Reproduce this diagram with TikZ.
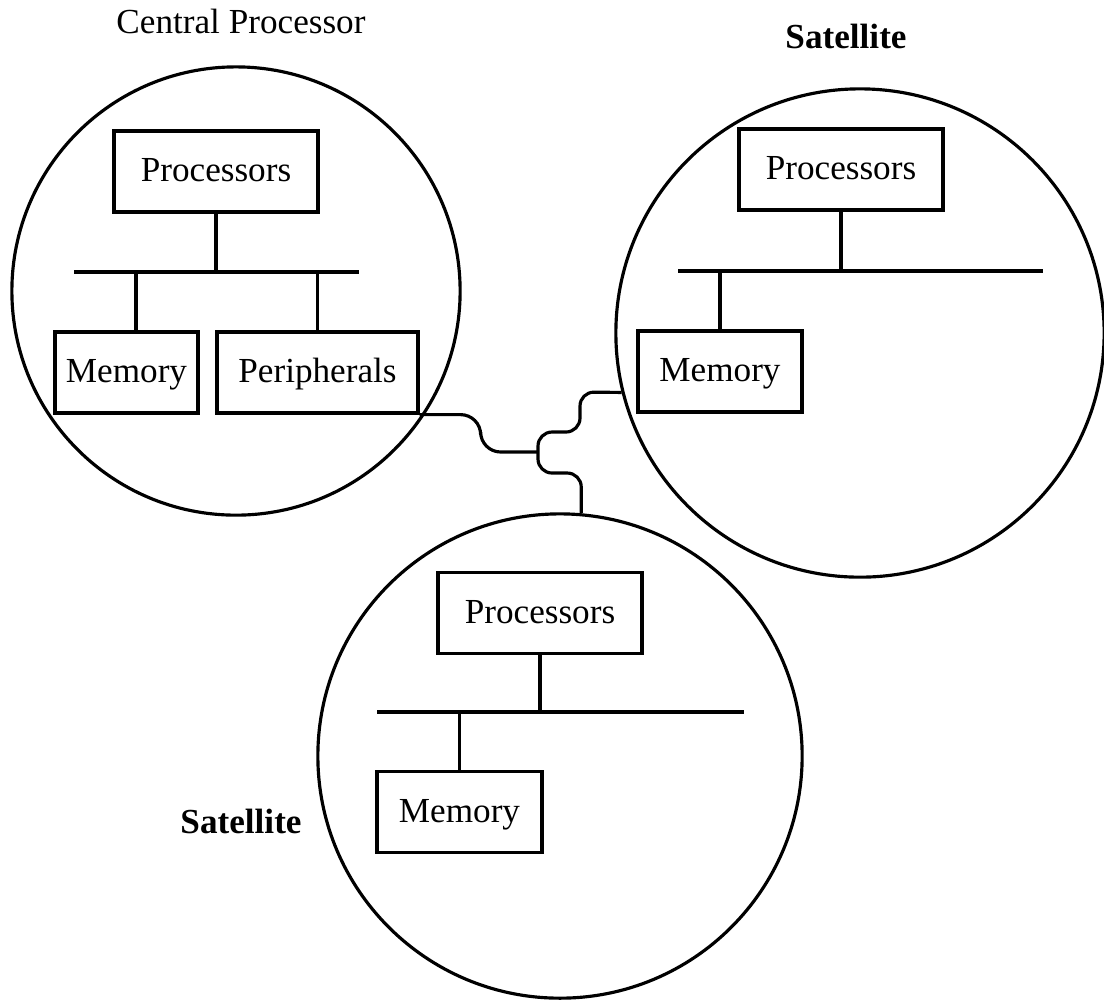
\documentclass[tikz,border=0pt]{standalone}
\usepackage{fontspec}
\setmainfont{Liberation Serif}
\usetikzlibrary{positioning,calc}

\begin{document}
\begin{tikzpicture}[x=0.01cm, y=-0.01cm, line width=0.9pt,
  box/.style={draw, minimum height=0.81cm, inner sep=0pt, text height=1.5ex, text depth=.25ex},
  ring/.style={draw, circle, inner sep=0pt},
  sat/.style={font=\bfseries, anchor=base}]
  \useasboundingbox (0,0) rectangle (1104,999);
  % Central processor
  \node[ring, minimum size=4.48cm] (cpu) at (236,291) {};
  \node[box, minimum width=2.04cm] (cpuproc) at (216,171.5) {Processors};
  \node[box, minimum width=1.43cm] (cpumem) at (126.5,372.5) {Memory};
  \node[box, minimum width=2.01cm] (cpuperi) at (317.5,372.5) {Peripherals};
  \coordinate (cpubusl) at (74,272);
  \coordinate (cpubusr) at (359,272);
  \coordinate (cpumemtap) at (136,272);
  \draw (cpubusl) -- (cpubusr);
  \draw (cpuproc) -- (cpuproc |- cpubusl);
  \draw (cpumemtap) -- (cpumemtap |- cpumem.north);
  \draw (cpuperi.north) -- (cpuperi |- cpubusl);
  \node[anchor=base] (cpulbl) at (241,33) {Central Processor};
  % First satellite
  \node[ring, minimum size=4.88cm] (sat1) at (860,333) {};
  \node[box, minimum width=2.04cm] (s1proc) at (841,169.5) {Processors};
  \node[box, minimum width=1.64cm] (s1mem) at (720,371.5) {Memory};
  \coordinate (s1busl) at (678,271);
  \coordinate (s1busr) at (1043,271);
  \draw (s1busl) -- (s1busr);
  \draw (s1proc) -- (s1proc |- s1busl);
  \draw (s1mem) -- (s1mem |- s1busl);
  \node[sat] (s1lbl) at (846,48) {Satellite};
  % Second satellite
  \node[ring, minimum size=4.84cm] (sat2) at (560,756) {};
  \node[box, minimum width=2.04cm] (s2proc) at (540,613) {Processors};
  \node[box, minimum width=1.65cm] (s2mem) at (459.5,812) {Memory};
  \coordinate (s2busl) at (377,712);
  \coordinate (s2busr) at (744,712);
  \draw (s2busl) -- (s2busr);
  \draw (s2proc) -- (s2proc |- s2busl);
  \draw (s2mem) -- (s2mem |- s2busl);
  \node[sat] (s2lbl) at (241,833) {Satellite};
  % Links between the three
  \coordinate (jn) at (538,452);
  \draw[rounded corners=0.2cm] (cpuperi.south east) -- ++(61,0) |- (jn);
  \draw[rounded corners=0.14cm] (sat2.85) |- (538,473) -- (538,432) -- (580,432)
    -- (580,392) -- (sat1.194);
\end{tikzpicture}
\end{document}
